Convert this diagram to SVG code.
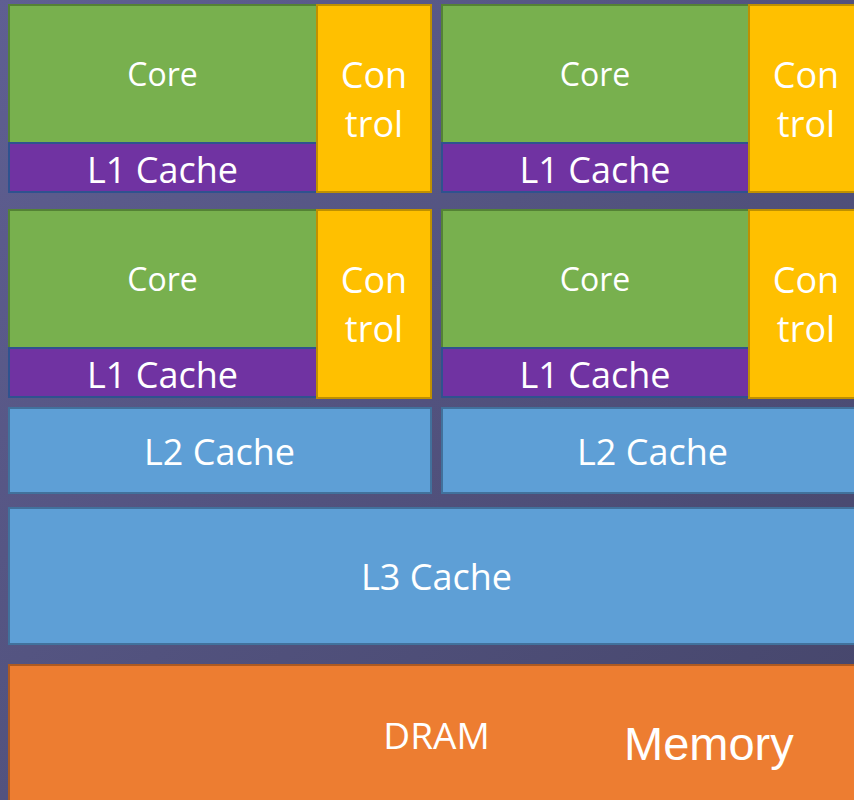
<svg xmlns="http://www.w3.org/2000/svg" width="854" height="800" viewBox="0 0 854 800">
  <defs>
    <linearGradient id="bg" x1="0" y1="0" x2="1" y2="1">
      <stop offset="0" stop-color="#5f5f92"/>
      <stop offset="1" stop-color="#45456a"/>
    </linearGradient>
    <style>
      .core{fill:#78b04e;stroke:#548235;stroke-width:2}
      .l1{fill:#7033a2;stroke:#2f528f;stroke-width:2}
      .ctl{fill:#ffc000;stroke:#bf9000;stroke-width:2}
      .cache{fill:#5e9fd6;stroke:#41719c;stroke-width:2}
      .dram{fill:#ed7d31;stroke:#ae5a21;stroke-width:2}
      text{font-family:"Open Sans","Noto Sans",sans-serif;fill:#ffffff;text-anchor:middle}
      .t31{font-size:32px}
      .t35{font-size:36px}
      .t37{font-size:37px}
      .mem{font-family:"Liberation Sans",Arial,sans-serif;font-size:47px;text-anchor:start}
    </style>
  </defs>
  <rect x="0" y="0" width="854" height="800" fill="url(#bg)"/>

  <g id="cpu1">
    <rect class="core" x="9" y="5" width="308" height="138"/>
    <rect class="l1" x="9" y="143" width="308" height="49"/>
    <rect class="ctl" x="317" y="5" width="114" height="187"/>
    <text class="t31" x="162.5" y="86">Core</text>
    <text class="t35" x="162.5" y="183">L1 Cache</text>
    <text class="t35" x="374" y="88">Con</text>
    <text class="t35" x="374" y="137">trol</text>
  </g>
  <g id="cpu2">
    <rect class="core" x="442" y="5" width="307" height="138"/>
    <rect class="l1" x="442" y="143" width="307" height="49"/>
    <rect class="ctl" x="749" y="5" width="114" height="187"/>
    <text class="t31" x="595" y="86">Core</text>
    <text class="t35" x="595" y="183">L1 Cache</text>
    <text class="t35" x="806" y="88">Con</text>
    <text class="t35" x="806" y="137">trol</text>
  </g>
  <g id="cpu3">
    <rect class="core" x="9" y="210" width="308" height="138"/>
    <rect class="l1" x="9" y="348" width="308" height="49"/>
    <rect class="ctl" x="317" y="210" width="114" height="188"/>
    <text class="t31" x="162.5" y="291">Core</text>
    <text class="t35" x="162.5" y="388">L1 Cache</text>
    <text class="t35" x="374" y="293">Con</text>
    <text class="t35" x="374" y="342">trol</text>
  </g>
  <g id="cpu4">
    <rect class="core" x="442" y="210" width="307" height="138"/>
    <rect class="l1" x="442" y="348" width="307" height="49"/>
    <rect class="ctl" x="749" y="210" width="114" height="188"/>
    <text class="t31" x="595" y="291">Core</text>
    <text class="t35" x="595" y="388">L1 Cache</text>
    <text class="t35" x="806" y="293">Con</text>
    <text class="t35" x="806" y="342">trol</text>
  </g>
  <g id="l2a">
    <rect class="cache" x="9" y="408" width="422" height="85"/>
    <text class="t35" x="219.5" y="465">L2 Cache</text>
  </g>
  <g id="l2b">
    <rect class="cache" x="442" y="408" width="422" height="85"/>
    <text class="t35" x="652.5" y="465">L2 Cache</text>
  </g>
  <g id="l3">
    <rect class="cache" x="9" y="508" width="856" height="136"/>
    <text class="t35" x="436.5" y="590">L3 Cache</text>
  </g>
  <g id="dram">
    <rect class="dram" x="9" y="665" width="856" height="140"/>
    <text class="t37" x="436.5" y="749">DRAM</text>
    <text class="mem" x="624" y="760">Memory</text>
  </g>
  <g id="connectors"/>
</svg>
